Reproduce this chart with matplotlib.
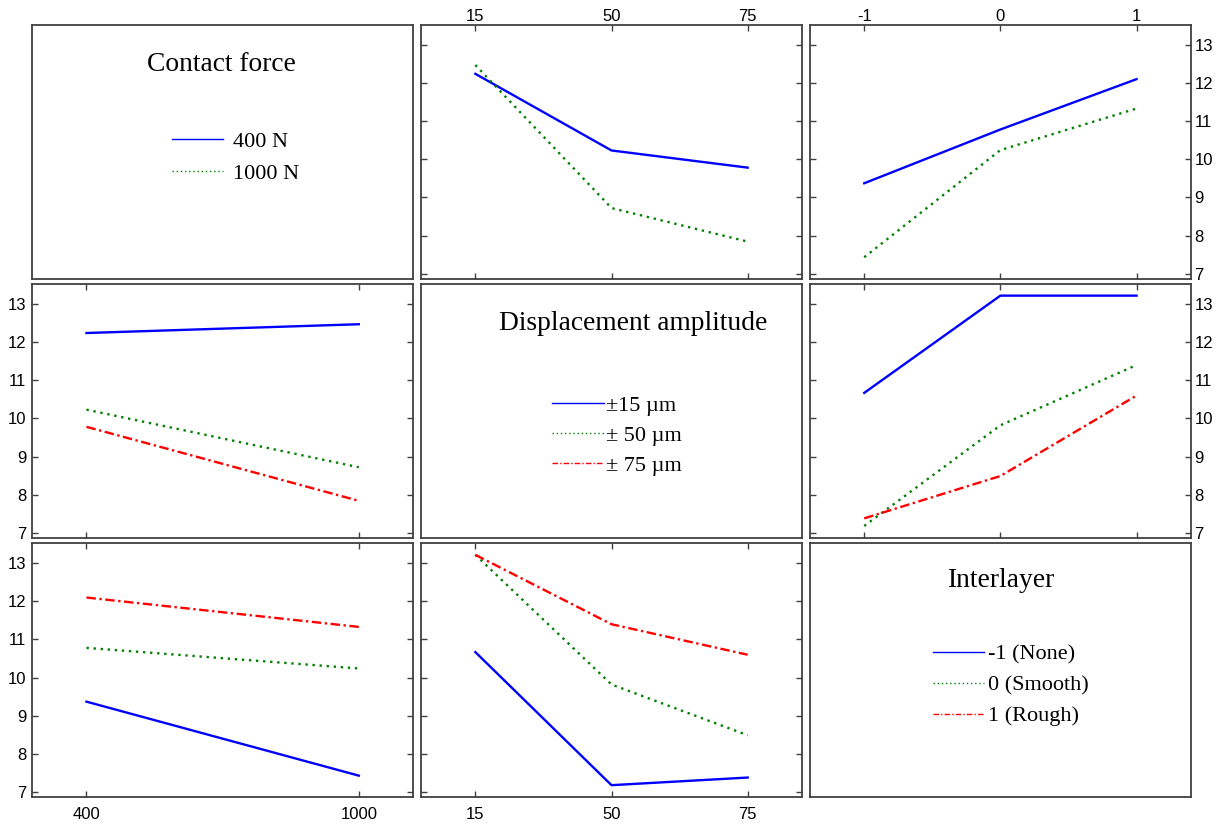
import matplotlib
matplotlib.use('Agg')
import matplotlib.pyplot as plt
from matplotlib.lines import Line2D

plt.rcParams['font.family'] = ['Liberation Serif', 'DejaVu Serif']

# factor names, level labels
factor_names = ['Contact force', 'Displacement amplitude', 'Interlayer']
force_levels = ['400', '1000']
disp_levels = ['15', '50', '75']
inter_levels = ['-1', '0', '1']
force_legend = ['400 N', '1000 N']
disp_legend = ['\u00b115 \u00b5m', '\u00b1 50 \u00b5m', '\u00b1 75 \u00b5m']
inter_legend = ['-1 (None)', '0 (Smooth)', '1 (Rough)']

# interaction means
# rows: contact force 400/1000, cols: displacement 15/50/75
force_disp = [[12.24, 10.23, 9.78],
              [12.47, 8.72, 7.84]]
# rows: contact force 400/1000, cols: interlayer -1/0/1
force_inter = [[9.37, 10.78, 12.10],
               [7.43, 10.24, 11.33]]
# rows: displacement 15/50/75, cols: interlayer -1/0/1
disp_inter = [[10.67, 13.22, 13.22],
              [7.18, 9.82, 11.40],
              [7.38, 8.49, 10.60]]

colors = ['blue', 'green', 'red']
styles = ['-', (0, (1, 2)), (0, (4, 1.5, 1, 1.5))]


def transpose(m):
    return [list(r) for r in zip(*m)]


levels = [force_levels, disp_levels, inter_levels]
legends = [force_legend, disp_legend, inter_legend]
# table[i][j] -> rows = levels of factor i, cols = levels of factor j
tables = {
    (0, 1): force_disp,
    (0, 2): force_inter,
    (1, 0): transpose(force_disp),
    (1, 2): disp_inter,
    (2, 0): transpose(force_inter),
    (2, 1): transpose(disp_inter),
}

fig, axs = plt.subplots(3, 3, figsize=(12.2, 8.25), dpi=100)
fig.subplots_adjust(left=32/1220, right=1191/1220, top=1-25/825, bottom=1-797/825,
                    wspace=0.02, hspace=0.022)

title_pos = [(0.497, 0.843), (0.557, 0.845), (0.5, 0.854)]
legend_pos = [(0.368, 0.58), (0.345, 0.562), (0.322, 0.604)]
legend_pad = [0.45, 0.1, 0.2]
legend_space = [0.52, 0.43, 0.47]

for i in range(3):
    for j in range(3):
        ax = axs[i, j]
        for s in ax.spines.values():
            s.set_color('#404040')
            s.set_linewidth(1.3)
        if i == j:
            ax.set_xticks([])
            ax.set_yticks([])
            ax.text(title_pos[i][0], title_pos[i][1], factor_names[i], transform=ax.transAxes,
                    ha='center', va='center', fontsize=19.8)
            handles = [Line2D([], [], color=colors[k], ls=styles[k], lw=1.0)
                       for k in range(len(legends[i]))]
            ax.legend(handles, legends[i], loc='upper left', bbox_to_anchor=legend_pos[i],
                      frameon=False, fontsize=16, handlelength=2.3, handletextpad=legend_pad[i],
                      labelspacing=legend_space[i], borderpad=0, borderaxespad=0)
            continue
        data = tables[(i, j)]
        xs = list(range(len(levels[j])))
        for k, row in enumerate(data):
            ax.plot(xs, row, color=colors[k], ls=styles[k], lw=1.7)
        pad = 0.2 if len(xs) == 2 else 0.4
        ax.set_xlim(-pad, len(xs) - 1 + pad)
        ax.set_ylim(6.87, 13.52)
        ax.set_xticks(xs)
        ax.set_xticklabels(levels[j], family='Liberation Sans')
        ax.set_yticks(range(7, 14))
        ax.set_yticklabels([str(v) for v in range(7, 14)], family='Liberation Sans')
        ax.tick_params(direction='in', length=4, width=1, color='#404040',
                       top=True, bottom=True, left=True, right=True,
                       labeltop=(i == 0), labelbottom=(i == 2),
                       labelleft=(j == 0), labelright=(j == 2),
                       labelsize=12)
        ax.tick_params(axis='x', pad=0.5 if i == 0 else 7)
        ax.tick_params(axis='y', pad=4 if j == 0 else 2.5)

fig.savefig('out.png', dpi=100, facecolor='white')
